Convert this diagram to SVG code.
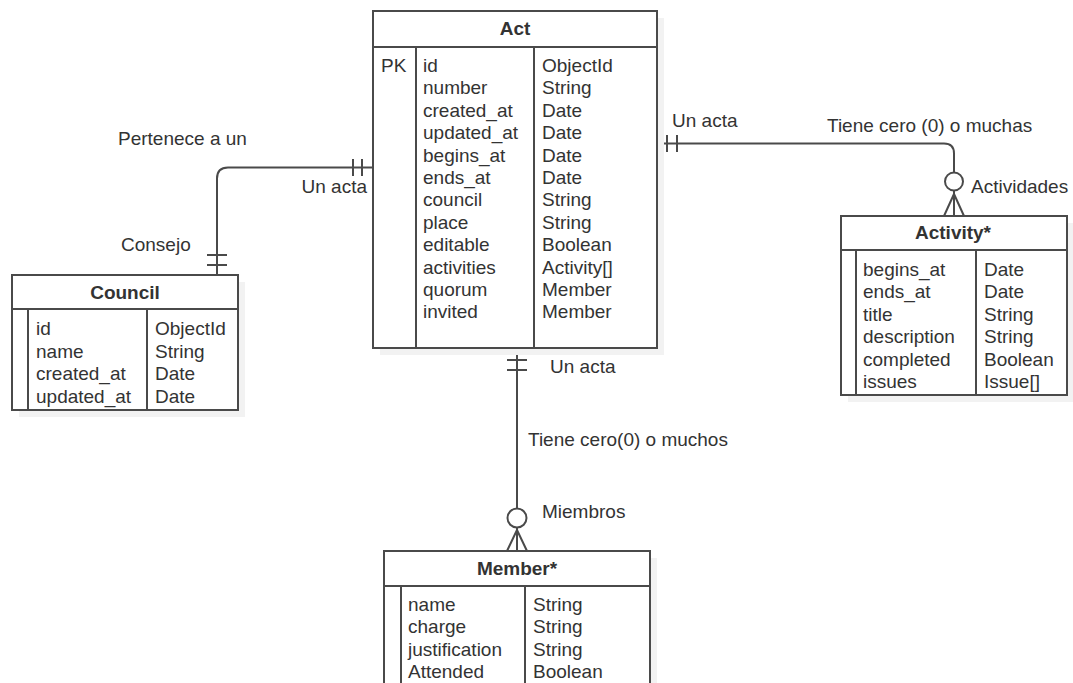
<svg xmlns="http://www.w3.org/2000/svg" width="1073" height="683" viewBox="0 0 1073 683">
<style>
.box{fill:#ffffff;stroke:#4a4a4a;stroke-width:2}
.sh{fill:#f2f2f2;stroke:none}
.ln{fill:none;stroke:#4a4a4a;stroke-width:2}
.t{font-family:"Liberation Sans",Arial,sans-serif;font-size:19px;fill:#333333}
.h{font-family:"Liberation Sans",Arial,sans-serif;font-size:19px;font-weight:bold;fill:#333333;text-anchor:middle}
.conn{fill:none;stroke:#4a4a4a;stroke-width:2}
</style>
<rect width="1073" height="683" fill="#ffffff"/>
<g id="connectors">
  <path class="conn" d="M373,167.5 H228 Q217,167.5 217,178.5 V275"/>
  <path class="conn" d="M353,159 V176 M362,159 V176"/>
  <path class="conn" d="M207,255 H227 M207,265 H227"/>
  <path class="conn" d="M657,143.5 H944 Q954,143.5 954,153.5 V172"/>
  <path class="conn" d="M667,135 V152 M677,135 V152"/>
  <circle class="conn" cx="954" cy="181.5" r="9"/>
  <path class="conn" d="M954,191 V216 M954,194 L944,216 M954,194 L964,216"/>
  <path class="conn" d="M517,348 V508.5"/>
  <path class="conn" d="M507,360 H527 M507,370 H527"/>
  <circle class="conn" cx="517" cy="518" r="9.5"/>
  <path class="conn" d="M517,528 V551 M517,530 L507,551 M517,530 L527,551"/>
  <text class="t" x="118" y="145">Pertenece a un</text>
  <text class="t" x="367" y="193" text-anchor="end">Un acta</text>
  <text class="t" x="121" y="251">Consejo</text>
  <text class="t" x="672" y="127">Un acta</text>
  <text class="t" x="827" y="132">Tiene cero (0) o muchas</text>
  <text class="t" x="971" y="193">Actividades</text>
  <text class="t" x="550" y="373">Un acta</text>
  <text class="t" x="528" y="446">Tiene cero(0) o muchos</text>
  <text class="t" x="542" y="518">Miembros</text>
</g>
<g id="act">
  <rect class="sh" x="380" y="18" width="284" height="337"/>
  <rect class="box" x="373" y="11" width="284" height="337"/>
  <path class="ln" d="M373,47 H657 M416,47 V348 M534,47 V348"/>
  <text class="h" x="515" y="35">Act</text>
  <text class="t" x="381" y="72">PK</text>
  <text class="t" x="423" y="72">id</text>
  <text class="t" x="423" y="94.4">number</text>
  <text class="t" x="423" y="116.8">created_at</text>
  <text class="t" x="423" y="139.2">updated_at</text>
  <text class="t" x="423" y="161.6">begins_at</text>
  <text class="t" x="423" y="184">ends_at</text>
  <text class="t" x="423" y="206.4">council</text>
  <text class="t" x="423" y="228.8">place</text>
  <text class="t" x="423" y="251.2">editable</text>
  <text class="t" x="423" y="273.6">activities</text>
  <text class="t" x="423" y="296">quorum</text>
  <text class="t" x="423" y="318.4">invited</text>
  <text class="t" x="542" y="72">ObjectId</text>
  <text class="t" x="542" y="94.4">String</text>
  <text class="t" x="542" y="116.8">Date</text>
  <text class="t" x="542" y="139.2">Date</text>
  <text class="t" x="542" y="161.6">Date</text>
  <text class="t" x="542" y="184">Date</text>
  <text class="t" x="542" y="206.4">String</text>
  <text class="t" x="542" y="228.8">String</text>
  <text class="t" x="542" y="251.2">Boolean</text>
  <text class="t" x="542" y="273.6">Activity[]</text>
  <text class="t" x="542" y="296">Member</text>
  <text class="t" x="542" y="318.4">Member</text>
</g>
<g id="council">
  <rect class="sh" x="19" y="282" width="226" height="135"/>
  <rect class="box" x="12" y="275" width="226" height="135"/>
  <path class="ln" d="M12,309 H238 M28,309 V410 M147,309 V410"/>
  <text class="h" x="125" y="299">Council</text>
  <text class="t" x="36" y="335">id</text>
  <text class="t" x="36" y="357.5">name</text>
  <text class="t" x="36" y="380">created_at</text>
  <text class="t" x="36" y="402.5">updated_at</text>
  <text class="t" x="155" y="335">ObjectId</text>
  <text class="t" x="155" y="357.5">String</text>
  <text class="t" x="155" y="380">Date</text>
  <text class="t" x="155" y="402.5">Date</text>
</g>
<g id="activity">
  <rect class="sh" x="848" y="223" width="226" height="179"/>
  <rect class="box" x="841" y="216" width="226" height="179"/>
  <path class="ln" d="M841,250 H1067 M856,250 V395 M976,250 V395"/>
  <text class="h" x="953" y="239">Activity*</text>
  <text class="t" x="863" y="276">begins_at</text>
  <text class="t" x="863" y="298.4">ends_at</text>
  <text class="t" x="863" y="320.8">title</text>
  <text class="t" x="863" y="343.2">description</text>
  <text class="t" x="863" y="365.6">completed</text>
  <text class="t" x="863" y="388">issues</text>
  <text class="t" x="984" y="276">Date</text>
  <text class="t" x="984" y="298.4">Date</text>
  <text class="t" x="984" y="320.8">String</text>
  <text class="t" x="984" y="343.2">String</text>
  <text class="t" x="984" y="365.6">Boolean</text>
  <text class="t" x="984" y="388">Issue[]</text>
</g>
<g id="member">
  <rect class="sh" x="391" y="558" width="266" height="160"/>
  <rect class="box" x="384" y="551" width="266" height="160"/>
  <path class="ln" d="M384,586 H650 M401,586 V711 M525,586 V711"/>
  <text class="h" x="517" y="575">Member*</text>
  <text class="t" x="408" y="611">name</text>
  <text class="t" x="408" y="633.4">charge</text>
  <text class="t" x="408" y="655.8">justification</text>
  <text class="t" x="408" y="678.2">Attended</text>
  <text class="t" x="533" y="611">String</text>
  <text class="t" x="533" y="633.4">String</text>
  <text class="t" x="533" y="655.8">String</text>
  <text class="t" x="533" y="678.2">Boolean</text>
</g>
</svg>
